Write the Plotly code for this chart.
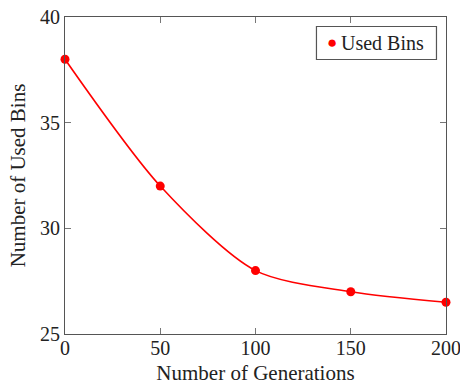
import plotly.graph_objects as go

generations = [0, 50, 100, 150, 200]
used_bins = [38, 32, 28, 27, 26.5]
x_ticks = [0, 50, 100, 150, 200]
y_ticks = [25, 30, 35, 40]
series_name = "Used Bins"

RED = "rgb(255,0,0)"
FONT = "Liberation Serif"
TXT = "#222"

fig = go.Figure()
fig.add_trace(go.Scatter(
    x=generations, y=used_bins, mode="lines+markers", name=series_name,
    line=dict(color=RED, width=1.6, shape="spline", smoothing=0.8),
    marker=dict(color=RED, size=9),
    showlegend=False, cliponaxis=False,
))

axis_common = dict(
    showline=True, linecolor="#555", linewidth=1.2, mirror="ticks",
    ticks="inside", ticklen=6, tickcolor="#777", tickwidth=1,
    showgrid=False, zeroline=False, ticklabeloverflow="allow", automargin=False,
    tickfont=dict(family=FONT, size=20, color=TXT),
)
fig.update_xaxes(range=[0, 200], tickvals=x_ticks, ticklabelstandoff=-4,
                 title=dict(text="Number of Generations", font=dict(family=FONT, size=21, color=TXT), standoff=10),
                 **axis_common)
fig.update_yaxes(range=[25, 40], tickvals=y_ticks,
                 title=dict(text="Number of Used Bins", font=dict(family=FONT, size=21, color=TXT), standoff=8),
                 **axis_common)

# legend box (drawn as a framed annotation, top right)
fig.add_shape(type="rect", xref="paper", yref="paper",
              x0=0.66, x1=0.975, y0=0.866, y1=0.97,
              line=dict(color="#555", width=1.2), fillcolor="white", layer="above")
fig.add_annotation(xref="paper", yref="paper", x=0.701, y=0.918,
                   text="<span style='color:rgb(255,0,0);font-size:17px'>●</span>",
                   showarrow=False, xanchor="center", yanchor="middle")
fig.add_annotation(xref="paper", yref="paper", x=0.718, y=0.918,
                   text=series_name, showarrow=False, xanchor="left", yanchor="middle",
                   font=dict(family=FONT, size=20, color=TXT))

fig.update_layout(
    width=460, height=385,
    margin=dict(l=65, r=14, t=17, b=51, autoexpand=False),
    plot_bgcolor="white", paper_bgcolor="white",
    font=dict(family=FONT, size=20, color=TXT),
    showlegend=False,
)
fig.write_html("out.html")
